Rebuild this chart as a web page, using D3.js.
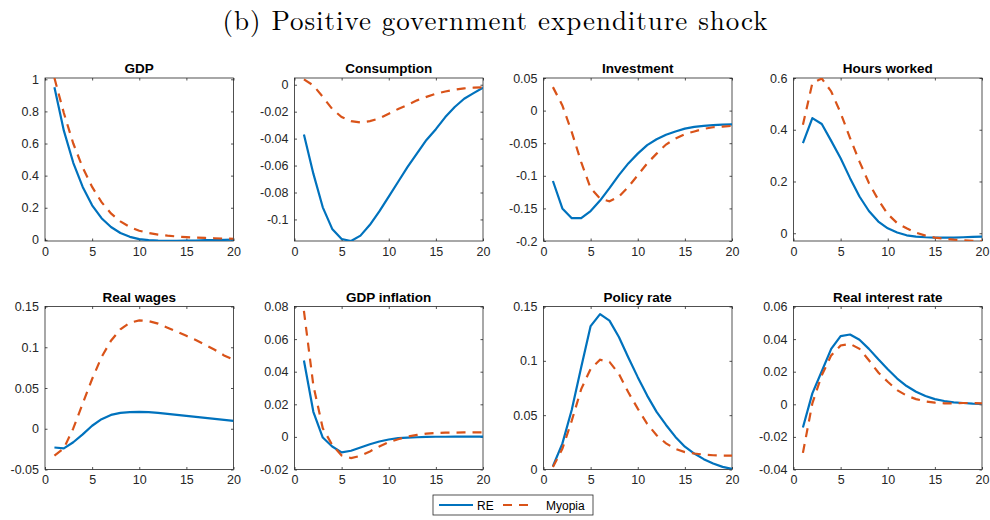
<!DOCTYPE html>
<html>
<head>
<meta charset="utf-8">
<script src="https://cdn.jsdelivr.net/npm/d3@7"></script>
<style>
  html, body { margin: 0; padding: 0; background: #fff; }
  svg { display: block; }
  .tick text { font-family: "Liberation Sans", Arial, Helvetica, sans-serif; font-size: 12.5px; fill: #262626; }
  .tick line { stroke: #262626; stroke-width: 0.8; }
</style>
</head>
<body>
<svg id="chart" width="990" height="520"></svg>
<script>
// Horizon (quarters after the shock)
const periods = [1, 2, 3, 4, 5, 6, 7, 8, 9, 10, 11, 12, 13, 14, 15, 16, 17, 18, 19, 20];
const xTicks = [0, 5, 10, 15, 20];
const seriesNames = ["RE", "Myopia"];

// Impulse responses: rational expectations (RE) vs. myopic agents
const gdpRE     = [0.95, 0.68, 0.48, 0.33, 0.215, 0.135, 0.08, 0.043, 0.019, 0.005, -0.002, -0.005, -0.006, -0.006, -0.005, -0.004, -0.002, -0.001, 0.0005, 0.002];
const gdpMyopia = [1.008, 0.79, 0.60, 0.45, 0.33, 0.235, 0.165, 0.115, 0.08, 0.057, 0.043, 0.033, 0.026, 0.021, 0.017, 0.014, 0.012, 0.01, 0.008, 0.007];

const consRE     = [-0.037, -0.066, -0.091, -0.107, -0.1145, -0.116, -0.112, -0.104, -0.094, -0.083, -0.072, -0.061, -0.051, -0.041, -0.033, -0.024, -0.0165, -0.0104, -0.0062, -0.0022];
const consMyopia = [0.004, -0.0005, -0.009, -0.018, -0.024, -0.027, -0.028, -0.027, -0.025, -0.0215, -0.018, -0.015, -0.0116, -0.009, -0.0067, -0.005, -0.0037, -0.0027, -0.0022, -0.002];

const invRE     = [-0.108, -0.15, -0.165, -0.165, -0.154, -0.138, -0.119, -0.099, -0.081, -0.066, -0.053, -0.044, -0.037, -0.032, -0.0276, -0.025, -0.0235, -0.0224, -0.0214, -0.021];
const invMyopia = [0.036, 0.008, -0.033, -0.079, -0.119, -0.135, -0.139, -0.132, -0.117, -0.099, -0.081, -0.066, -0.052, -0.043, -0.036, -0.032, -0.028, -0.0255, -0.0245, -0.0235];

const hoursRE     = [0.348, 0.445, 0.422, 0.357, 0.29, 0.213, 0.142, 0.086, 0.045, 0.019, 0.003, -0.008, -0.013, -0.0155, -0.017, -0.017, -0.017, -0.0155, -0.014, -0.013];
const hoursMyopia = [0.419, 0.58, 0.598, 0.548, 0.465, 0.368, 0.277, 0.194, 0.129, 0.074, 0.039, 0.019, 0.002, -0.009, -0.017, -0.021, -0.0245, -0.027, -0.029, -0.031];

const wagesRE     = [-0.023, -0.024, -0.0166, -0.0069, 0.0037, 0.0118, 0.017, 0.0195, 0.0203, 0.0207, 0.0203, 0.0195, 0.0183, 0.017, 0.0158, 0.0146, 0.0134, 0.0122, 0.011, 0.0097];
const wagesMyopia = [-0.033, -0.024, 0.0004, 0.031, 0.061, 0.088, 0.108, 0.122, 0.130, 0.133, 0.132, 0.129, 0.124, 0.119, 0.114, 0.109, 0.103, 0.097, 0.090, 0.085];

const inflRE     = [0.0469, 0.0154, -0.0004, -0.0059, -0.0095, -0.0085, -0.0065, -0.0045, -0.0028, -0.0016, -0.0008, -0.0004, -0.0002, 0.0, 0.0001, 0.0001, 0.0002, 0.0002, 0.0002, 0.0002];
const inflMyopia = [0.0773, 0.0316, 0.0053, -0.0049, -0.0114, -0.013, -0.0116, -0.0089, -0.0059, -0.0032, -0.0014, 0.0002, 0.0012, 0.002, 0.0024, 0.0026, 0.0026, 0.0028, 0.0028, 0.0028];

const policyRE     = [0.003, 0.0238, 0.055, 0.094, 0.132, 0.143, 0.137, 0.122, 0.103, 0.085, 0.068, 0.053, 0.041, 0.030, 0.021, 0.0147, 0.0095, 0.0055, 0.0024, 0.0006];
const policyMyopia = [0.0024, 0.019, 0.045, 0.074, 0.0926, 0.101, 0.099, 0.088, 0.071, 0.056, 0.042, 0.0315, 0.024, 0.019, 0.016, 0.0147, 0.0137, 0.0131, 0.0128, 0.0128];

const realRateRE     = [-0.0142, 0.0067, 0.0203, 0.034, 0.0418, 0.0428, 0.0396, 0.034, 0.0276, 0.0215, 0.0158, 0.0112, 0.0077, 0.0051, 0.0032, 0.002, 0.0012, 0.0008, 0.0004, 0.0002];
const realRateMyopia = [-0.0298, 0.0006, 0.0178, 0.030, 0.0361, 0.0371, 0.034, 0.027, 0.0195, 0.0138, 0.0087, 0.0053, 0.0032, 0.0018, 0.001, 0.0006, 0.0006, 0.0008, 0.0008, 0.0006];

// Panel titles, y-limits and y-ticks
const titles = ["GDP", "Consumption", "Investment", "Hours worked", "Real wages", "GDP inflation", "Policy rate", "Real interest rate"];
const yLimits = [[-0.007, 1.008], [-0.116, 0.005], [-0.2, 0.05], [-0.03, 0.6], [-0.05, 0.15], [-0.02, 0.08], [0, 0.15], [-0.04, 0.06]];
const yTicks = [
  [0, 0.2, 0.4, 0.6, 0.8, 1],
  [-0.1, -0.08, -0.06, -0.04, -0.02, 0],
  [-0.2, -0.15, -0.1, -0.05, 0, 0.05],
  [0, 0.2, 0.4, 0.6],
  [-0.05, 0, 0.05, 0.1, 0.15],
  [-0.02, 0, 0.02, 0.04, 0.06, 0.08],
  [0, 0.05, 0.1, 0.15],
  [-0.04, -0.02, 0, 0.02, 0.04, 0.06]
];
const reData = [gdpRE, consRE, invRE, hoursRE, wagesRE, inflRE, policyRE, realRateRE];
const myopiaData = [gdpMyopia, consMyopia, invMyopia, hoursMyopia, wagesMyopia, inflMyopia, policyMyopia, realRateMyopia];

const colors = { RE: "#0072BD", Myopia: "#D95319" };
const axisColor = "#262626";
const dash = "9,7";

const svg = d3.select("#chart");
const fmt = v => d3.format("~g")(v).replace("\u2212", "-");

// Figure title
svg.append("text")
  .attr("x", 495).attr("y", 30)
  .attr("text-anchor", "middle")
  .attr("font-family", "'Latin Modern Roman', 'CMU Serif', 'Liberation Serif', 'DejaVu Serif', serif")
  .attr("font-size", 27)
  .attr("textLength", 545).attr("lengthAdjust", "spacing")
  .attr("fill", "#000")
  .text("(b) Positive government expenditure shock");

// Subplot grid geometry
const panelW = 188.5, panelH = 163;
const lefts = [45, 294.5, 543.5, 793.5];
const tops = [78, 306.5];

titles.forEach((title, i) => {
  const col = i % 4, row = Math.floor(i / 4);
  const g = svg.append("g").attr("transform", `translate(${lefts[col]},${tops[row]})`);

  const x = d3.scaleLinear().domain([0, 20]).range([0, panelW]);
  const y = d3.scaleLinear().domain(yLimits[i]).range([panelH, 0]);

  const clipId = "clip" + i;
  g.append("clipPath").attr("id", clipId)
    .append("rect").attr("width", panelW).attr("height", panelH);

  // Axes box
  g.append("rect")
    .attr("width", panelW).attr("height", panelH)
    .attr("fill", "#fff").attr("stroke", axisColor).attr("stroke-width", 0.8);

  // Ticks point inward on all four sides
  const gx = g.append("g").attr("transform", `translate(0,${panelH})`)
    .call(d3.axisBottom(x).tickValues(xTicks).tickFormat(fmt).tickSize(-2.5).tickPadding(6).tickSizeOuter(0));
  const gxt = g.append("g")
    .call(d3.axisTop(x).tickValues(xTicks).tickFormat("").tickSize(-2.5).tickSizeOuter(0));
  const gy = g.append("g")
    .call(d3.axisLeft(y).tickValues(yTicks[i]).tickFormat(fmt).tickSize(-2.5).tickPadding(6).tickSizeOuter(0));
  const gyr = g.append("g").attr("transform", `translate(${panelW},0)`)
    .call(d3.axisRight(y).tickValues(yTicks[i]).tickFormat("").tickSize(-2.5).tickSizeOuter(0));
  [gx, gxt, gy, gyr].forEach(a => a.select(".domain").remove());

  // Response lines
  const line = d3.line().x((d, k) => x(periods[k])).y(d => y(d));
  const plot = g.append("g").attr("clip-path", `url(#${clipId})`);
  plot.append("path").datum(reData[i])
    .attr("d", line).attr("fill", "none")
    .attr("stroke", colors.RE).attr("stroke-width", 2.2)
    .attr("stroke-linejoin", "round");
  plot.append("path").datum(myopiaData[i])
    .attr("d", line).attr("fill", "none")
    .attr("stroke", colors.Myopia).attr("stroke-width", 2.2)
    .attr("stroke-dasharray", dash);

  // Panel title
  g.append("text")
    .attr("x", panelW / 2).attr("y", -5)
    .attr("text-anchor", "middle")
    .attr("font-family", "'Liberation Sans', Arial, Helvetica, sans-serif")
    .attr("font-weight", "bold").attr("font-size", 13.5)
    .attr("fill", "#000")
    .text(title);
});

// Legend
const legend = svg.append("g").attr("transform", "translate(433,495)");
legend.append("rect").attr("width", 160).attr("height", 20)
  .attr("fill", "#fff").attr("stroke", axisColor).attr("stroke-width", 0.8);
const legendItems = [
  { name: seriesNames[0], x0: 6, x1: 40, tx: 44, dashed: false },
  { name: seriesNames[1], x0: 70, x1: 97, tx: 113, dashed: true }
];
legendItems.forEach(it => {
  legend.append("line")
    .attr("x1", it.x0).attr("x2", it.x1).attr("y1", 10).attr("y2", 10)
    .attr("stroke", colors[it.name]).attr("stroke-width", 2)
    .attr("stroke-dasharray", it.dashed ? dash : null);
  legend.append("text")
    .attr("x", it.tx).attr("y", 14.5)
    .attr("font-family", "'Liberation Sans', Arial, Helvetica, sans-serif")
    .attr("font-size", 12).attr("fill", "#000")
    .text(it.name);
});
</script>
</body>
</html>
